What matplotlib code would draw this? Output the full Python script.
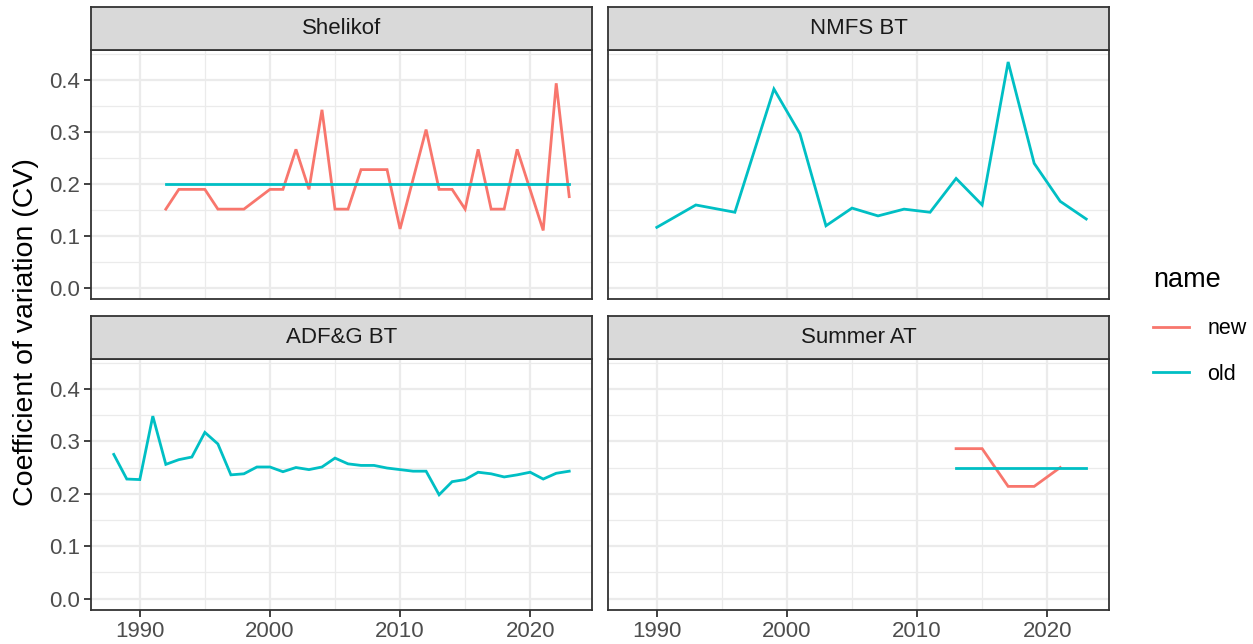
import matplotlib.pyplot as plt
import matplotlib.lines as mlines
import numpy as np

plt.rcParams['font.family'] = ['Liberation Sans', 'DejaVu Sans']

# survey CV series, old vs new
panels = ['Shelikof', 'NMFS BT', 'ADF&G BT', 'Summer AT']

shelikof_years = [1992, 1993, 1994, 1995, 1996, 1997, 1998, 2000, 2001, 2002,
                  2003, 2004, 2005, 2006, 2007, 2008, 2009, 2010, 2012, 2013,
                  2014, 2015, 2016, 2017, 2018, 2019, 2021, 2022, 2023]
shelikof_new = [0.151, 0.189, 0.189, 0.189, 0.151, 0.151, 0.151, 0.189, 0.189, 0.266,
                0.189, 0.342, 0.151, 0.151, 0.227, 0.227, 0.227, 0.113, 0.304, 0.189,
                0.189, 0.151, 0.266, 0.151, 0.151, 0.266, 0.110, 0.393, 0.175]
shelikof_old = [0.2] * len(shelikof_years)

nmfs_years = [1990, 1993, 1996, 1999, 2001, 2003, 2005, 2007, 2009, 2011,
              2013, 2015, 2017, 2019, 2021, 2023]
nmfs_old = [0.116, 0.159, 0.145, 0.382, 0.296, 0.119, 0.153, 0.138, 0.151, 0.145,
            0.210, 0.159, 0.434, 0.239, 0.166, 0.132]

adfg_years = list(range(1988, 2024))
adfg_old = [0.275, 0.228, 0.227, 0.348, 0.256, 0.265, 0.270, 0.317, 0.295, 0.236,
            0.238, 0.251, 0.251, 0.242, 0.250, 0.246, 0.251, 0.268, 0.257, 0.254,
            0.254, 0.249, 0.246, 0.243, 0.243, 0.198, 0.223, 0.227, 0.241, 0.238,
            0.232, 0.236, 0.241, 0.228, 0.239, 0.243]

summer_years_new = [2013, 2015, 2017, 2019, 2021]
summer_new = [0.286, 0.286, 0.214, 0.214, 0.250]
summer_years_old = [2013, 2015, 2017, 2019, 2021, 2023]
summer_old = [0.25, 0.25, 0.25, 0.25, 0.25, 0.25]

series = {
    'Shelikof': [(shelikof_years, shelikof_new, 'new'), (shelikof_years, shelikof_old, 'old')],
    'NMFS BT': [(nmfs_years, nmfs_old, 'old')],
    'ADF&G BT': [(adfg_years, adfg_old, 'old')],
    'Summer AT': [(summer_years_new, summer_new, 'new'), (summer_years_old, summer_old, 'old')],
}
colors = {'new': '#F8766D', 'old': '#00BFC4'}

W, H = 1253, 644
fig = plt.figure(figsize=(W / 100, H / 100), dpi=100)

# panel boxes in pixels: left, top, right, bottom
boxes = [(91, 50, 592, 299), (608, 50, 1109, 299),
         (91, 359, 592, 610), (608, 359, 1109, 610)]
strip_h = 43

xlim = (1986.25, 2024.75)
ylim = (-0.0218, 0.457)
border = '#333333'
tick_col = '#4D4D4D'

for k, name in enumerate(panels):
    l, t, r, b = boxes[k]
    ax = fig.add_axes([l / W, 1 - b / H, (r - l) / W, (b - t) / H])
    for xs, ys, lab in series[name]:
        ax.plot(xs, ys, color=colors[lab], lw=2.0, solid_joinstyle='miter', zorder=3)
    ax.set_xlim(*xlim)
    ax.set_ylim(*ylim)
    ax.set_xticks([1990, 2000, 2010, 2020])
    ax.set_xticks([1995, 2005, 2015], minor=True)
    ax.set_yticks([0.0, 0.1, 0.2, 0.3, 0.4])
    ax.set_yticks([0.05, 0.15, 0.25, 0.35, 0.45], minor=True)
    ax.yaxis.set_major_formatter(plt.FuncFormatter(lambda v, p: f'{v:.1f}'))
    ax.grid(which='major', color='#EBEBEB', lw=1.6, zorder=0)
    ax.grid(which='minor', color='#EBEBEB', lw=0.9, zorder=0)
    ax.set_axisbelow(True)
    for s in ax.spines.values():
        s.set_color(border)
        s.set_linewidth(1.3)
    ax.tick_params(which='minor', length=0)
    ax.tick_params(which='major', length=5, width=1.3, color=border,
                   labelcolor=tick_col, labelsize=16, pad=3)
    if k % 2 == 1:
        ax.tick_params(axis='y', which='major', left=False, labelleft=False)
    if k < 2:
        ax.tick_params(axis='x', which='major', bottom=False, labelbottom=False)

    # facet strip
    sax = fig.add_axes([l / W, 1 - t / H, (r - l) / W, strip_h / H])
    sax.set_facecolor('#D9D9D9')
    sax.set_xticks([])
    sax.set_yticks([])
    for s in sax.spines.values():
        s.set_color(border)
        s.set_linewidth(1.3)
    sax.text(0.5, 0.5, name, ha='center', va='center', fontsize=16,
             color='#1A1A1A', transform=sax.transAxes)

fig.text(26 / W, 1 - 332 / H, 'Coefficient of variation (CV)', rotation=90,
         ha='center', va='center', fontsize=20.5)

# legend
handles = [mlines.Line2D([], [], color=colors['new'], lw=2.0, label='new'),
           mlines.Line2D([], [], color=colors['old'], lw=2.0, label='old')]
leg = fig.legend(handles=handles, title='name', loc='upper left',
                 bbox_to_anchor=(1134 / W, 1 - 248 / H), frameon=False,
                 fontsize=15.5, title_fontsize=19.5, handlelength=1.65,
                 labelspacing=1.15, handletextpad=0.85, alignment='left')

fig.savefig('out.png', dpi=100, facecolor='white')
